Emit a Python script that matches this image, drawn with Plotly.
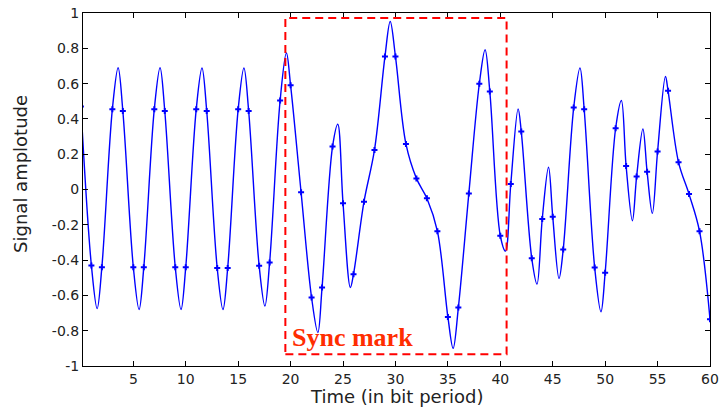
import plotly.graph_objects as go

# ---- data ----
sample_t = list(range(0, 61))
sample_v = [0.47, -0.43, -0.44, 0.455, 0.445, -0.44, -0.44, 0.455, 0.445, -0.44,
            -0.44, 0.455, 0.445, -0.445, -0.445, 0.455, 0.445, -0.432, -0.413, 0.504,
            0.59, -0.016, -0.612, -0.555, 0.243, -0.078, -0.48, -0.069, 0.224, 0.754,
            0.754, 0.258, 0.063, -0.05, -0.236, -0.722, -0.669, -0.022, 0.599, 0.555,
            -0.262, 0.031, 0.328, -0.39, -0.167, -0.154, -0.34, 0.464, 0.455, -0.442,
            -0.472, 0.347, 0.133, 0.073, 0.101, 0.215, 0.559, 0.154, -0.026, -0.236,
            -0.735]

# local extrema of the continuous waveform between samples
extrema_t = [1.55, 3.55, 5.55, 7.55, 9.55, 11.55, 13.55, 15.55, 17.55, 19.6,
             22.6, 24.5, 25.7, 29.5, 35.5, 38.55, 40.5, 41.7, 43.5, 44.6,
             45.6, 47.6, 49.6, 51.55, 52.6, 53.6, 54.5, 55.75]
extrema_v = [-0.675, 0.69, -0.68, 0.69, -0.68, 0.688, -0.68, 0.688, -0.66, 0.773,
             -0.81, 0.37, -0.555, 0.952, -0.90, 0.792, -0.349, 0.457, -0.536, 0.126,
             -0.504, 0.688, -0.693, 0.504, -0.177, 0.343, -0.135, 0.64]

x_ticks = [5, 10, 15, 20, 25, 30, 35, 40, 45, 50, 55, 60]
y_ticks = [-1, -0.8, -0.6, -0.4, -0.2, 0, 0.2, 0.4, 0.6, 0.8, 1]
y_ticktext = ["-1", "-0.8", "-0.6", "-0.4", "-0.2", "0", "0.2", "0.4", "0.6", "0.8", "1"]

sync_box_t = [19.5, 40.6]
sync_box_v = [-0.934, 0.972]
sync_label = "Sync mark"

# ---- build continuous curve from samples + extrema ----
pts = sorted(list(zip(sample_t, sample_v)) + list(zip(extrema_t, extrema_v)))
curve_t = [p[0] for p in pts]
curve_v = [p[1] for p in pts]

blue = "rgb(0,0,255)"
fig = go.Figure()
fig.add_trace(go.Scatter(x=curve_t, y=curve_v, mode="lines",
                         line=dict(color=blue, width=1.4, shape="spline", smoothing=1.0),
                         showlegend=False, hoverinfo="skip"))
fig.add_trace(go.Scatter(x=sample_t, y=sample_v, mode="markers",
                         marker=dict(symbol="cross", size=5, color=blue),
                         showlegend=False))

fig.add_shape(type="rect", xref="x", yref="y",
              x0=sync_box_t[0], x1=sync_box_t[1], y0=sync_box_v[0], y1=sync_box_v[1],
              line=dict(color="rgb(255,0,0)", width=2, dash="8px,5px"))
fig.add_annotation(x=sync_box_t[0] + 0.45, y=sync_box_v[0], xref="x", yref="y",
                   text="<b>" + sync_label + "</b>", showarrow=False,
                   xanchor="left", yanchor="bottom",
                   font=dict(family="Liberation Serif", size=26, color="rgb(255,45,0)"))

fig.add_annotation(x=0.5, y=-0.087, xref="paper", yref="paper",
                   text="Time (in bit period)", showarrow=False,
                   xanchor="center", yanchor="middle",
                   font=dict(family="DejaVu Sans", size=18, color="#222"))
fig.add_annotation(x=-0.1, y=0.545, xref="paper", yref="paper",
                   text="Signal amplotude", showarrow=False, textangle=-90,
                   xanchor="center", yanchor="middle",
                   font=dict(family="DejaVu Sans", size=18, color="#222"))

axis_common = dict(showline=True, linecolor="black", linewidth=1, mirror="ticks",
                   ticks="inside", ticklen=5, tickcolor="black", showgrid=False,
                   zeroline=False, automargin=False,
                   tickfont=dict(family="DejaVu Sans", size=14, color="#222"))
fig.update_xaxes(range=[0.2, 60], tickvals=x_ticks, **axis_common)
fig.update_yaxes(range=[-1, 1], tickvals=y_ticks, ticktext=y_ticktext, **axis_common)

fig.update_layout(width=720, height=407, margin=dict(l=83, r=10, t=13, b=41),
                  plot_bgcolor="white", paper_bgcolor="white")
fig.write_html("out.html")
